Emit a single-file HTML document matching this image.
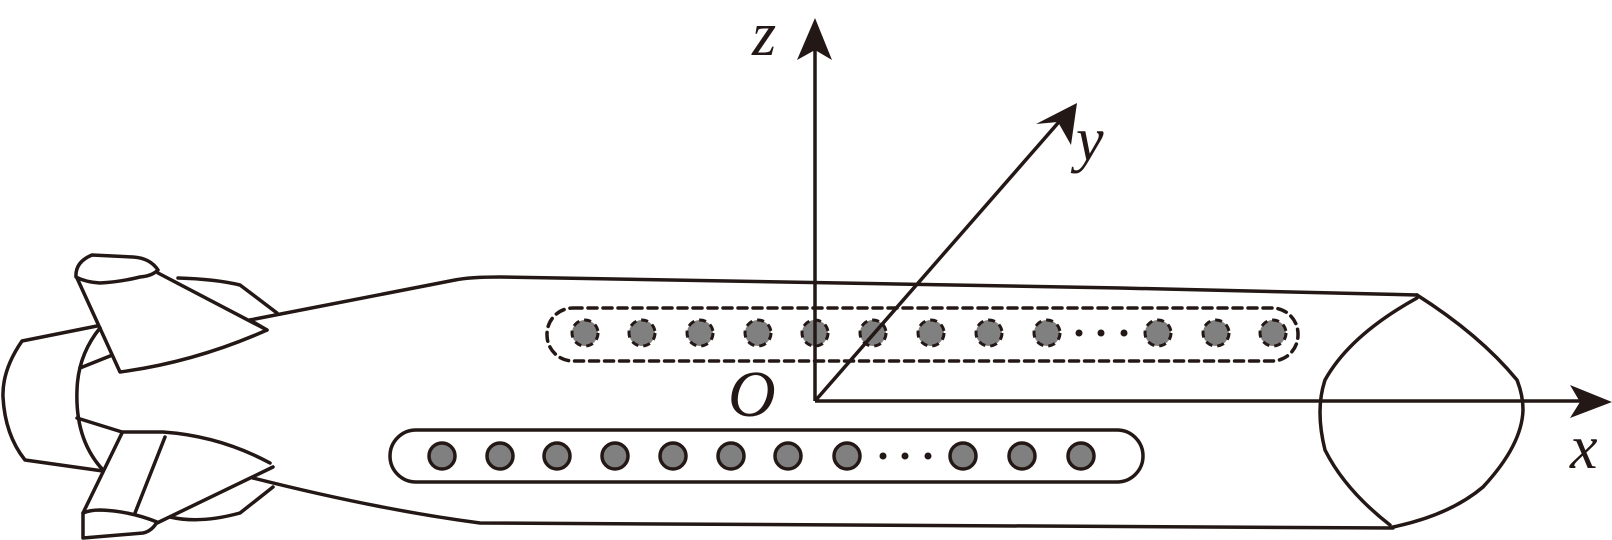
<!DOCTYPE html>
<html><head><meta charset="utf-8"><style>html,body{margin:0;padding:0;background:#fff}svg{display:block}</style></head>
<body>
<svg width="1612" height="540" viewBox="0 0 1612 540" xmlns="http://www.w3.org/2000/svg">
<g fill="none" stroke="#231815" stroke-width="3.5" stroke-linejoin="round" stroke-linecap="round">
<!-- hull -->
<path d="M250,320 L455,280 Q470,277 500,277 L1120,288 L1417,295"/>
<path d="M253,478 Q380,510 480,523 L1393,528"/>
<!-- nose -->
<path d="M1417,295 Q1480,335 1517,380 Q1523,395 1523,410 Q1522,445 1483,487 Q1450,515 1393,527"/>
<path d="M1417,298 Q1350,335 1325,380 Q1315,410 1325,450 Q1345,490 1390,525"/>
<!-- top fin -->
<path d="M76,277 Q75,262 92,255 L133,257 Q150,258 158,270 Q152,276 140,277 Q120,282 100,283 Q85,282 76,277 Z"/>
<path d="M77,278 L120,372 Q195,362 267,330 L250,320"/>
<path d="M158,273 L267,330"/>
<path d="M178,278 Q215,279 240,285 L277,313"/>
<!-- shroud -->
<path d="M97,326 L22,341 Q2,370 3,397 Q5,435 25,460 L103,471"/>
<path d="M100,328 Q78,355 77,390 Q75,440 103,470"/>
<path d="M80,368 L110,356"/>
<path d="M77,418 L122,432"/>
<!-- bottom fin -->
<path d="M122,433 L83,513"/>
<path d="M122,432 L163,432 Q220,436 270,463"/>
<path d="M273,467 L157,523"/>
<path d="M83,513 Q90,510 100,510 Q130,511 157,522 Q152,531 143,533 L83,538 Z"/>
<path d="M165,437 L135,513"/>
<path d="M170,517 Q200,524 240,513 L273,487"/>
<!-- dashed box -->
<rect x="547" y="308" width="751" height="53" rx="26" stroke-dasharray="9,6"/>
<!-- bottom capsule -->
<rect x="390" y="430" width="753" height="52" rx="26"/>
</g>
<g fill="#808080" stroke="#231815" stroke-width="3" stroke-dasharray="7,5">
<circle cx="585" cy="333" r="13"/><circle cx="642" cy="333" r="13"/><circle cx="700" cy="333" r="13"/><circle cx="758" cy="333" r="13"/><circle cx="815" cy="333" r="13"/><circle cx="873" cy="333" r="13"/><circle cx="931" cy="333" r="13"/><circle cx="989" cy="333" r="13"/><circle cx="1047" cy="333" r="13"/><circle cx="1158" cy="333" r="13"/><circle cx="1216" cy="333" r="13"/><circle cx="1273" cy="333" r="13"/>
</g>
<g fill="#808080" stroke="#231815" stroke-width="3.5">
<circle cx="442" cy="456" r="13"/><circle cx="500" cy="456" r="13"/><circle cx="557" cy="456" r="13"/><circle cx="615" cy="456" r="13"/><circle cx="673" cy="456" r="13"/><circle cx="731" cy="456" r="13"/><circle cx="788" cy="456" r="13"/><circle cx="847" cy="456" r="13"/><circle cx="963" cy="456" r="13"/><circle cx="1022" cy="456" r="13"/><circle cx="1081" cy="456" r="13"/>
</g>
<g fill="#231815">
<circle cx="1079" cy="333" r="3.5"/><circle cx="1101" cy="333" r="3.5"/><circle cx="1124" cy="333" r="3.5"/>
<circle cx="883" cy="456" r="3.5"/><circle cx="905" cy="456" r="3.5"/><circle cx="928" cy="456" r="3.5"/>
</g>
<!-- axes -->
<g stroke="#231815" stroke-width="3.5" fill="none">
<path d="M815,401 L815,50"/>
<path d="M815,401 L1065,115"/>
<path d="M815,401 L1580,401"/>
</g>
<g fill="#231815">
<polygon points="815,18 797,60 815,50 832,60"/>
<polygon points="1077,103 1036,124 1058,122 1071,145"/>
<polygon points="1612,402 1570,385 1580,402 1570,418"/>
</g>
<g font-family="'Liberation Serif', serif" font-style="italic" fill="#231815">
<text x="752" y="55" font-size="62">z</text>
<text x="1076" y="160" font-size="62">y</text>
<text x="1570" y="468" font-size="62">x</text>
<text x="728" y="416" font-size="66">O</text>
</g>
</svg>
</body></html>
